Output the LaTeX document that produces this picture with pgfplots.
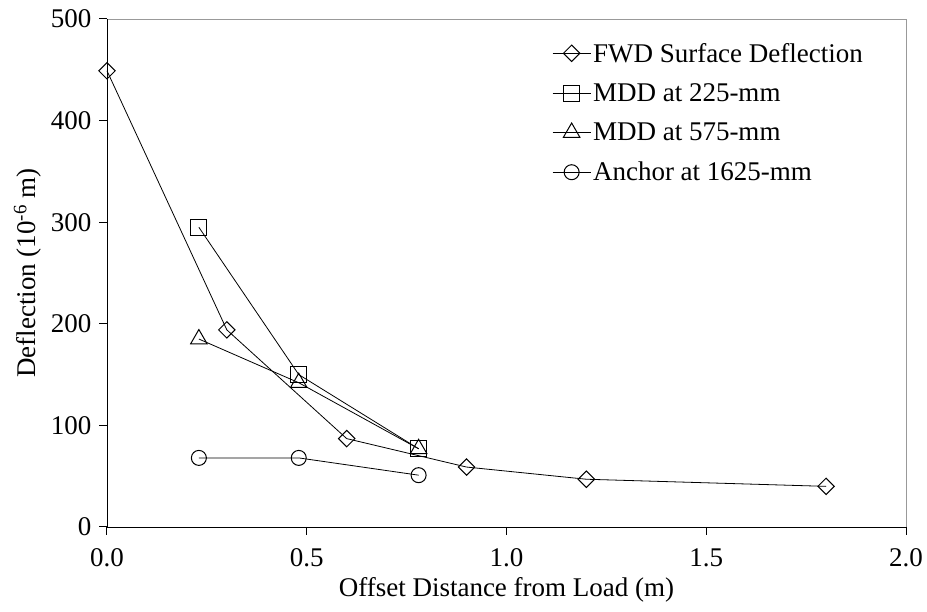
\documentclass[border=0pt]{standalone}
\usepackage{pgfplots}
\pgfplotsset{compat=1.18}
\usepackage{fontspec}
\setmainfont{Liberation Serif}
\begin{document}
\begin{tikzpicture}
\path[use as bounding box] (-107pt,-85pt) rectangle (820pt,527pt);
\begin{axis}[
  at={(0pt,0pt)}, anchor=south west,
  scale only axis,
  width=799pt, height=508pt,
  xmin=0, xmax=2, ymin=0, ymax=500,
  axis line style={draw=none},
  xtick={0,0.5,1,1.5,2}, ytick={0,100,200,300,400,500},
  tick align=outside, major tick length=8pt,
  tick style={draw=none},
  /pgf/number format/assume math mode=true,
  xticklabel style={/pgf/number format/fixed, /pgf/number format/fixed zerofill, /pgf/number format/precision=1},
  yticklabel style={/pgf/number format/fixed, /pgf/number format/precision=0},
  xticklabel shift=10pt,
  yticklabel shift=4pt,
  ticklabel style={font=\fontsize{27}{32}\selectfont},
  label style={font=\fontsize{27}{32}\selectfont},
  xlabel={Offset Distance from Load (m)},
  ylabel={Deflection (10\textsuperscript{-6} m)},
  xlabel style={yshift=-4pt},
  ylabel style={yshift=3pt},
  legend style={draw=none, fill=none, at={(0.557,0.957)}, anchor=north west, inner sep=0pt,
    font=\fontsize{27}{32}\selectfont, row sep=16pt, legend cell align=left,
    /tikz/every even column/.append style={column sep=0pt}},
  legend image code/.code={
    \draw[mark repeat=2,mark phase=2,#1] plot coordinates {(0pt,0pt) (19pt,0pt) (38pt,0pt)};},
  every axis plot/.append style={black, line width=0.8pt, mark options={fill=white, line width=1pt, solid}},
  clip=false,
]
\draw[gray!80, line width=0.9pt] (rel axis cs:0,1) -- (rel axis cs:1,1) -- (rel axis cs:1,0);
\draw[black, line width=0.9pt] (rel axis cs:0,1) -- (rel axis cs:0,0) -- (rel axis cs:1,0);
\draw[black, line width=1pt]
  (axis cs:0,0) -- (axis cs:0,-8)
  (axis cs:0.5,0) -- (axis cs:0.5,-8)
  (axis cs:1,0) -- (axis cs:1,-8)
  (axis cs:1.5,0) -- (axis cs:1.5,-8)
  (axis cs:2,0) -- (axis cs:2,-8)
  (axis cs:0,0) -- (axis cs:-0.02,0)
  (axis cs:0,100) -- (axis cs:-0.02,100)
  (axis cs:0,200) -- (axis cs:-0.02,200)
  (axis cs:0,300) -- (axis cs:-0.02,300)
  (axis cs:0,400) -- (axis cs:-0.02,400)
  (axis cs:0,500) -- (axis cs:-0.02,500);
\addplot[mark=square, mark size=5.8pt, mark options={rotate=45, fill=white, line width=1pt}] coordinates {
  (0,449) (0.3,194) (0.6,87) (0.9,59) (1.2,47) (1.8,40)};
\addlegendentry{FWD Surface Deflection}
\addplot[mark=square, mark size=8pt] coordinates {
  (0.23,295) (0.48,150) (0.78,77)};
\addlegendentry{MDD at 225-mm}
\addplot[mark=triangle, mark size=9.5pt] coordinates {
  (0.23,185) (0.48,142) (0.78,77)};
\addlegendentry{MDD at 575-mm}
\addplot[mark=o, mark size=7.5pt] coordinates {
  (0.23,68) (0.48,68) (0.78,51)};
\addlegendentry{Anchor at 1625-mm}
\end{axis}
\end{tikzpicture}
\end{document}
